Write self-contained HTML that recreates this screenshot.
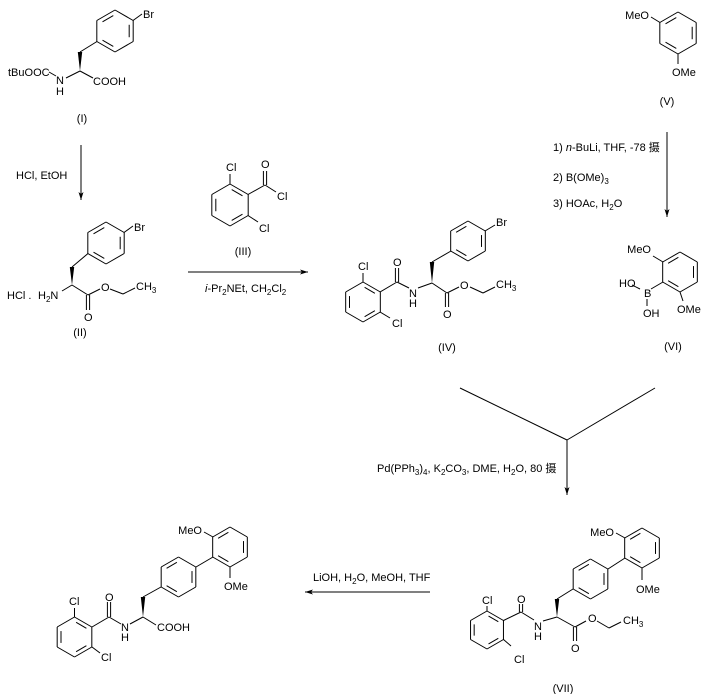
<!DOCTYPE html>
<html><head><meta charset="utf-8">
<style>
html,body{margin:0;padding:0;background:#fff;}
svg{display:block;}
text{font-family:"Liberation Sans","Noto Sans CJK SC",sans-serif;font-size:11px;fill:#000;}
line,polyline{stroke:#000;stroke-width:1;fill:none;}
</style></head>
<body>
<svg id="s" width="711" height="694" viewBox="0 0 711 694" xmlns="http://www.w3.org/2000/svg"></svg>
<script>
var s=document.getElementById('s'),h='';
function L(a,b,c,d){h+='<line x1="'+a+'" y1="'+b+'" x2="'+c+'" y2="'+d+'"/>';}
function D(a,b,c,d){var dx=c-a,dy=d-b,l=Math.hypot(dx,dy),ox=-dy/l*1.6,oy=dx/l*1.6;L(a+ox,b+oy,c+ox,d+oy);L(a-ox,b-oy,c-ox,d-oy);}
function T(x,y,t,a){h+='<text x="'+x+'" y="'+y+'"'+(a?' text-anchor="'+a+'"':'')+'>'+t+'</text>';}
function W(x1,y1,x2,y2){var dx=x2-x1,dy=y2-y1,l=Math.hypot(dx,dy),ox=-dy/l*2.2,oy=dx/l*2.2;h+='<polygon points="'+x1+','+y1+' '+(x2+ox)+','+(y2+oy)+' '+(x2-ox)+','+(y2-oy)+'" fill="#000"/>';}
function A(x1,y1,x2,y2){L(x1,y1,x2,y2);var dx=x2-x1,dy=y2-y1,l=Math.hypot(dx,dy),ux=dx/l,uy=dy/l;h+='<polygon points="'+x2+','+y2+' '+(x2-ux*8-uy*2.5)+','+(y2-uy*8+ux*2.5)+' '+(x2-ux*6)+','+(y2-uy*6)+' '+(x2-ux*8+uy*2.5)+','+(y2-uy*8-ux*2.5)+'" fill="#000"/>';}
function P(cx,cy,r,dbl){var v=[];for(var i=0;i<6;i++){var a=(-90+60*i)*Math.PI/180;v.push([cx+r*Math.cos(a),cy+r*Math.sin(a)]);}
for(i=0;i<6;i++){var p=v[i],q=v[(i+1)%6];L(p[0],p[1],q[0],q[1]);}
dbl.forEach(function(i){var p=v[i],q=v[(i+1)%6],k=0.78;var p1=[cx+(p[0]-cx)*k,cy+(p[1]-cy)*k],q1=[cx+(q[0]-cx)*k,cy+(q[1]-cy)*k];var f=0.12;L(p1[0]+(q1[0]-p1[0])*f,p1[1]+(q1[1]-p1[1])*f,q1[0]-(q1[0]-p1[0])*f,q1[1]-(q1[1]-p1[1])*f);});return v;}
var sub=function(t){return '<tspan dy="3" font-size="8">'+t+'</tspan><tspan dy="-3">';};

/* (I) */
P(115,31,21,[1,3,5]);L(133,20.5,142,14);T(143,18,'Br');
L(97,41.5,80,52);W(80,71,80,52);
L(80,71,66,78);L(80,71,93,78);T(93,85,'COOH');
T(8,76,'tBuOOC');L(49,72,56,76);T(56,84,'N');T(56,95,'H');
T(82,122,'(I)','middle');
A(81,145,81,200);T(16,179,'HCl, EtOH');

/* (II) */
P(106,243,21,[1,3,5]);L(124,232.5,133,226);T(134,231,'Br');
L(88,253.5,72,267);W(72,285,72,267);
T(7,299,'HCl .');T(38,299,'H'+sub('2')+'N</tspan>');L(72,285,62,291);
L(72,285,88,295);L(88,295,100,289);T(101,291,'O');D(88,295,88,310);T(84,321,'O');
L(110,289,123,294);L(123,294,135,288);T(136,290,'CH'+sub('3')+'</tspan>');
T(80,336,'(II)','middle');

/* (III) */
P(230,205,21,[0,2,4]);L(230,184,230,174);T(226,171,'Cl');
L(248,194.5,265,185);D(265,185,265,171);T(261,168,'O');L(265,185,276,192);T(277,200,'Cl');
L(248,215.5,258,222);T(259,232,'Cl');
T(243,255,'(III)','middle');
A(188,272,308,272);T(205,292,'<tspan font-style="italic">i</tspan>-Pr'+sub('2')+'NEt, CH</tspan><tspan dy="3" font-size="8">2</tspan><tspan dy="-3">Cl</tspan><tspan dy="3" font-size="8">2</tspan>');

/* (IV) */
P(363,302,20,[0,2,4]);L(363,282,363,273);T(358,270,'Cl');
L(380,312,390,318);T(392,327,'Cl');
L(380,292,397,282);D(397,282,397,268);T(393,266,'O');
L(397,282,409,288);T(409,297,'N');T(409,307,'H');L(418,288,432,283);
W(432,283,432,262);L(432,262,451,251);
P(468,241,20,[1,3,5]);L(485,231,495,225);T(496,226,'Br');
L(432,283,447,293);D(447,293,447,307);T(443,318,'O');L(447,293,459,287);T(460,289,'O');
L(470,287,483,293);L(483,293,495,287);T(496,288,'CH'+sub('3')+'</tspan>');
T(447,351,'(IV)','middle');

/* (V) */
P(678,33,21,[1,3,5]);L(660,22.5,651,17);T(649,19,'MeO','end');
L(678,54,678,64);T(672,76,'OMe');
T(667,105,'(V)','middle');
A(667,132,667,217);
T(553,151,'1) <tspan font-style="italic">n</tspan>-BuLi, THF, -78 摄');
T(553,181,'2) B(OMe)'+sub('3')+'</tspan>');
T(553,207,'3) HOAc, H'+sub('2')+'O</tspan>');

/* (VI) */
P(680,272,20,[1,3,5]);L(663,262,653,256);T(651,253,'MeO','end');
L(663,282,651,289);T(644,297,'B');L(640,289,632,285);T(619,287,'HO');
L(647,299,647,306);T(643,317,'OH');
L(680,292,683,301);T(677,313,'OMe');
T(673,350,'(VI)','middle');

/* Y connector */
L(460,388,567,440);L(655,388,567,440);A(567,440,567,495);
T(377,472,'Pd(PPh'+sub('3')+')</tspan><tspan dy="3" font-size="8">4</tspan><tspan dy="-3">, K</tspan><tspan dy="3" font-size="8">2</tspan><tspan dy="-3">CO</tspan><tspan dy="3" font-size="8">3</tspan><tspan dy="-3">, DME, H</tspan><tspan dy="3" font-size="8">2</tspan><tspan dy="-3">O, 80 摄</tspan>');

/* (VII) */
P(487,630,19,[0,2,4]);L(487,611,487,606);T(482,604,'Cl');
L(503.5,639.5,511,646);T(514,663,'Cl');
L(503.5,620.5,521,612);D(521,612,521,604);T(517,603,'O');
L(521,612,534,620);T(534,630,'N');T(534,640,'H');L(543,621,557,617);
W(557,617,557,599);L(557,599,573,589);
P(590.5,579,20,[1,3,5]);L(608,569,625,558);
P(642,548,20,[1,3,5]);L(625,538,616,533);T(614,536,'MeO','end');
L(642,568,642,580);T(636,593,'OMe');
L(557,617,575,627);D(575,627,575,641);T(571,652,'O');L(575,627,586,621);T(588,622,'O');
L(597,621,609,628);L(609,628,621,622);T(623,624,'CH'+sub('3')+'</tspan>');
T(563,692,'(VII)','middle');

A(430,592,305,592);T(313,581,'LiOH, H'+sub('2')+'O, MeOH, THF</tspan>');

/* final */
P(74.5,637,20,[0,2,4]);L(74.5,617,74.5,608);T(69,605,'Cl');
L(92,647,100,653);T(101,661,'Cl');
L(92,627,109,617);D(109,617,109,602);T(105,601,'O');
L(109,617,121,624);T(121,631,'N');T(121,641,'H');L(130,624,143,617);
W(143,617,143,597);L(143,597,161,587);
L(143,617,156,625);T(157,631,'COOH');
P(178.5,577,20,[1,3,5]);L(196,567,213,557);
P(230,547,20,[1,3,5]);L(213,537,204,532);T(202,534,'MeO','end');
L(230,567,230,578);T(224,590,'OMe');

s.innerHTML=h;
</script>
</body></html>
